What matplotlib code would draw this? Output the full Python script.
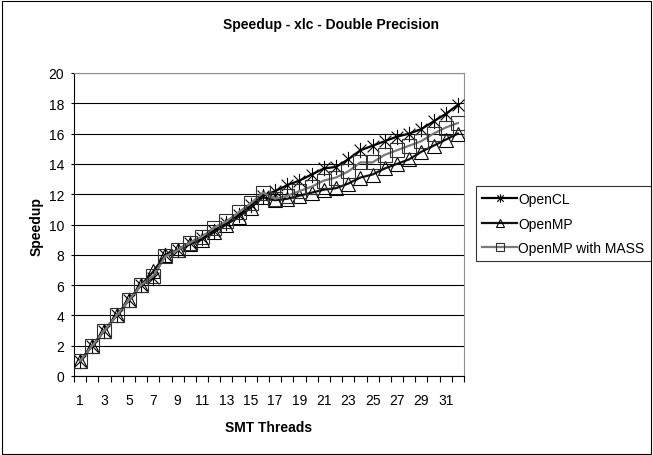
#!/usr/bin/env python3
# -*- coding: utf-8 -*-
"""
Speedup vs SMT threads (xlc, double precision), Excel style line chart.
"""

import numpy as np
import matplotlib
matplotlib.use("Agg")
import matplotlib.pyplot as plt
from matplotlib.path import Path
from matplotlib.patches import Rectangle

# ------------------ data ------------------ #
threads = list(range(1, 33))

opencl = [1.0, 2.0, 3.0, 4.0, 5.0, 6.0, 6.5, 8.0, 8.3, 8.8, 9.1, 9.6, 10.1, 10.6,
          11.3, 11.9, 12.2, 12.6, 12.9, 13.3, 13.7, 13.8, 14.3, 14.9, 15.2, 15.5,
          15.8, 16.0, 16.3, 16.8, 17.3, 17.9]
openmp = [1.0, 2.0, 3.0, 4.0, 5.0, 6.0, 6.9, 8.0, 8.3, 8.7, 9.0, 9.5, 10.0, 10.5,
          11.1, 11.8, 11.6, 11.7, 11.9, 12.1, 12.3, 12.4, 12.7, 13.1, 13.3, 13.7,
          14.0, 14.3, 14.8, 15.2, 15.6, 16.0]
openmp_mass = [1.0, 2.0, 3.0, 4.0, 5.0, 6.0, 6.6, 7.9, 8.3, 8.8, 9.2, 9.8, 10.2, 10.8,
               11.4, 12.1, 11.7, 11.9, 12.2, 12.5, 12.9, 13.1, 13.5, 14.1, 14.1, 14.6,
               14.9, 15.2, 15.5, 16.0, 16.4, 16.7]

series_names = ["OpenCL", "OpenMP", "OpenMP with MASS"]
y_ticks = list(range(0, 21, 2))
x_labels = list(range(1, 33, 2))

# ------------------ style ------------------ #
plt.rcParams["font.family"] = ["Liberation Sans", "DejaVu Sans"]

W, H = 653, 456
fig = plt.figure(figsize=(W / 100, H / 100), dpi=100)

# Excel 的星形标记：X 加一条竖线
star = Path([(-1, -1), (1, 1), (-1, 1), (1, -1), (0, -1.3), (0, 1.3)],
            [Path.MOVETO, Path.LINETO, Path.MOVETO, Path.LINETO, Path.MOVETO, Path.LINETO])

# 整图外框
fig.patches.append(Rectangle((2 / W, 1 / H), 649 / W, 453 / H, transform=fig.transFigure,
                             fill=False, edgecolor="black", linewidth=0.8))

ax = fig.add_axes([74 / W, 1 - 377 / H, 390 / W, 303 / H])

ax.plot(threads, opencl, color="black", lw=1.6, marker=star, ms=11, mew=0.8,
        mec="black", mfc="none", label=series_names[0], zorder=3)
ax.plot(threads, openmp, color="#111111", lw=1.6, marker="^", ms=10, mew=0.8,
        mec="black", mfc="none", label=series_names[1], zorder=3)
ax.plot(threads, openmp_mass, color="#7a7a7a", lw=1.6, marker="s", ms=9.5, mew=0.8,
        mec="#303030", mfc="none", label=series_names[2], zorder=3)

ax.set_xlim(0.5, 32.5)
ax.set_ylim(0, 20)
ax.set_yticks(y_ticks)
ax.set_xticks(x_labels)
ax.set_xticks(np.arange(0.5, 33, 1), minor=True)
ax.tick_params(axis="x", which="major", length=0, pad=12, labelsize=10)
ax.tick_params(axis="x", which="minor", length=4.3, width=0.8, direction="out")
ax.tick_params(axis="y", length=2.2, width=0.8, direction="out", pad=5, labelsize=10)

ax.yaxis.grid(True, color="black", lw=0.8)
ax.set_axisbelow(True)
ax.spines["left"].set_color("black")
ax.spines["bottom"].set_color("black")
ax.spines["top"].set_color("#909090")
ax.spines["right"].set_color("#909090")
for s in ax.spines.values():
    s.set_linewidth(0.8)

fig.text(331 / W, 1 - 25 / H, "Speedup - xlc - Double Precision", ha="center", va="center",
         fontsize=10, fontweight="bold")
fig.text(269 / W, 1 - 428 / H, "SMT Threads", ha="center", va="center",
         fontsize=10, fontweight="bold")
fig.text(37 / W, 1 - 227 / H, "Speedup", ha="center", va="center", rotation=90,
         fontsize=10, fontweight="bold")

leg = fig.legend(loc="upper left", bbox_to_anchor=(476 / W, 1 - 187 / H), borderaxespad=0,
                 fontsize=10, frameon=True, fancybox=False, markerscale=0.55,
                 handlelength=2.5, handletextpad=0.1, borderpad=0.45, labelspacing=0.75)
leg.get_frame().set_edgecolor("black")
leg.get_frame().set_linewidth(0.8)

fig.savefig("out.png", dpi=100)
